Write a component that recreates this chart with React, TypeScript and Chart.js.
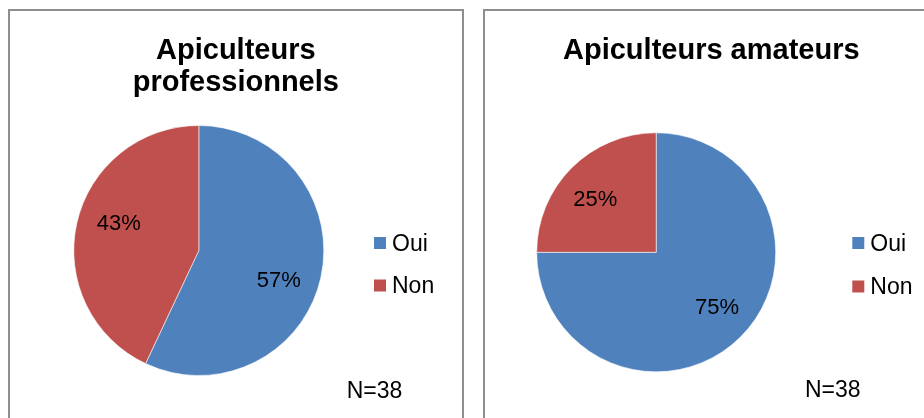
import React, { useEffect, useRef } from "react";
import { Chart, registerables } from "chart.js";

Chart.register(...registerables);

// ---- data ----
const categories = ["Oui", "Non"];
const proValues = [57, 43];
const amateurValues = [75, 25];
const proTitle = ["Apiculteurs", "professionnels"];
const amateurTitle = ["Apiculteurs amateurs"];
const proNote = "N=38";
const amateurNote = "N=38";
const sliceColors = ["#4F81BD", "#C0504D"];

const FONT = "'Liberation Sans', Arial, Helvetica, sans-serif";

const decorPlugin = {
  id: "decor",
  afterDatasetsDraw(chart: any, _args: any, opts: any) {
    const ctx = chart.ctx;
    const meta = chart.getDatasetMeta(0);
    const ds = chart.data.datasets[0];
    const data: number[] = ds.data;
    const total = data.reduce((a: number, b: number) => a + b, 0);
    ctx.save();
    ctx.fillStyle = "#000";
    // percentage labels from arc geometry
    const lblSize = 22;
    ctx.font = `${lblSize}px ${FONT}`;
    ctx.textAlign = "center";
    ctx.textBaseline = "alphabetic";
    meta.data.forEach((arc: any, i: number) => {
      const p = arc.getProps(["x", "y", "startAngle", "endAngle", "outerRadius"], true);
      const mid = (p.startAngle + p.endAngle) / 2 + (opts.angleShift * Math.PI) / 180;
      const r = p.outerRadius * opts.labelRadius;
      const lx = p.x + Math.cos(mid) * r;
      const ly = p.y + Math.sin(mid) * r;
      ctx.fillText(Math.round((data[i] / total) * 100) + "%", lx, ly + lblSize * 0.358);
    });
    // title
    ctx.font = `bold 29px ${FONT}`;
    ctx.textAlign = "center";
    opts.title.forEach((line: string, i: number) => {
      ctx.fillText(line, opts.titleX, opts.titleY + i * 31.4);
    });
    // legend
    ctx.font = `23px ${FONT}`;
    ctx.textAlign = "left";
    chart.data.labels.forEach((lab: string, i: number) => {
      const y = opts.legendY + i * opts.legendGap;
      ctx.fillStyle = ds.backgroundColor[i];
      ctx.fillRect(opts.legendX, y - 13.5, 12, 12);
      ctx.fillStyle = "#000";
      ctx.fillText(lab, opts.legendX + 18, y);
    });
    // note
    ctx.fillText(opts.note, opts.noteX, opts.noteY);
    ctx.restore();
  },
};

type PanelProps = {
  values: number[];
  title: string[];
  note: string;
  left: number;
  width: number;
  canvasW: number;
  padding: { left: number; top: number; right: number; bottom: number };
  decor: any;
};

function PiePanel(props: PanelProps) {
  const ref = useRef<HTMLCanvasElement | null>(null);
  useEffect(() => {
    if (!ref.current) return;
    const chart = new Chart(ref.current, {
      type: "pie",
      data: {
        labels: categories,
        datasets: [
          {
            data: props.values,
            backgroundColor: sliceColors,
            borderColor: "rgba(255,255,255,0.55)",
            borderWidth: 1,
          },
        ],
      },
      options: {
        responsive: false,
        animation: false,
        layout: { padding: props.padding },
        plugins: {
          legend: { display: false },
          title: { display: false },
          tooltip: { enabled: false },
          decor: { ...props.decor, title: props.title, note: props.note },
        } as any,
      },
      plugins: [decorPlugin as any],
    });
    return () => chart.destroy();
  }, []);
  return (
    <div
      style={{
        position: "absolute",
        left: props.left,
        top: 9,
        width: props.width,
        height: 440,
        boxSizing: "border-box",
        border: "2px solid #8e8e8e",
        background: "#fff",
      }}
    >
      <canvas
        ref={ref}
        width={props.canvasW}
        height={407}
        style={{ position: "absolute", left: 0, top: 0, width: props.canvasW, height: 407 }}
      />
    </div>
  );
}

export default function App() {
  return (
    <div
      style={{
        position: "fixed",
        left: 0,
        top: 0,
        width: 924,
        height: 418,
        overflow: "hidden",
        background: "#fff",
      }}
    >
      <PiePanel
        values={proValues}
        title={proTitle}
        note={proNote}
        left={8}
        width={456}
        canvasW={452}
        padding={{ left: 63.3, top: 114, right: 137.7, bottom: 42 }}
        decor={{
          angleShift: 7,
          labelRadius: 0.68,
          titleX: 225.8,
          titleY: 48.3,
          legendX: 364,
          legendY: 239.5,
          legendGap: 42.5,
          noteX: 336.7,
          noteY: 387.3,
        }}
      />
      <PiePanel
        values={amateurValues}
        title={amateurTitle}
        note={amateurNote}
        left={483}
        width={470}
        canvasW={458}
        padding={{ left: 51.2, top: 121.3, right: 166.8, bottom: 45.7 }}
        decor={{
          angleShift: -3.5,
          labelRadius: 0.68,
          titleX: 226.3,
          titleY: 48.3,
          legendX: 367.3,
          legendY: 239.5,
          legendGap: 43.5,
          noteX: 320,
          noteY: 385.7,
        }}
      />
    </div>
  );
}
